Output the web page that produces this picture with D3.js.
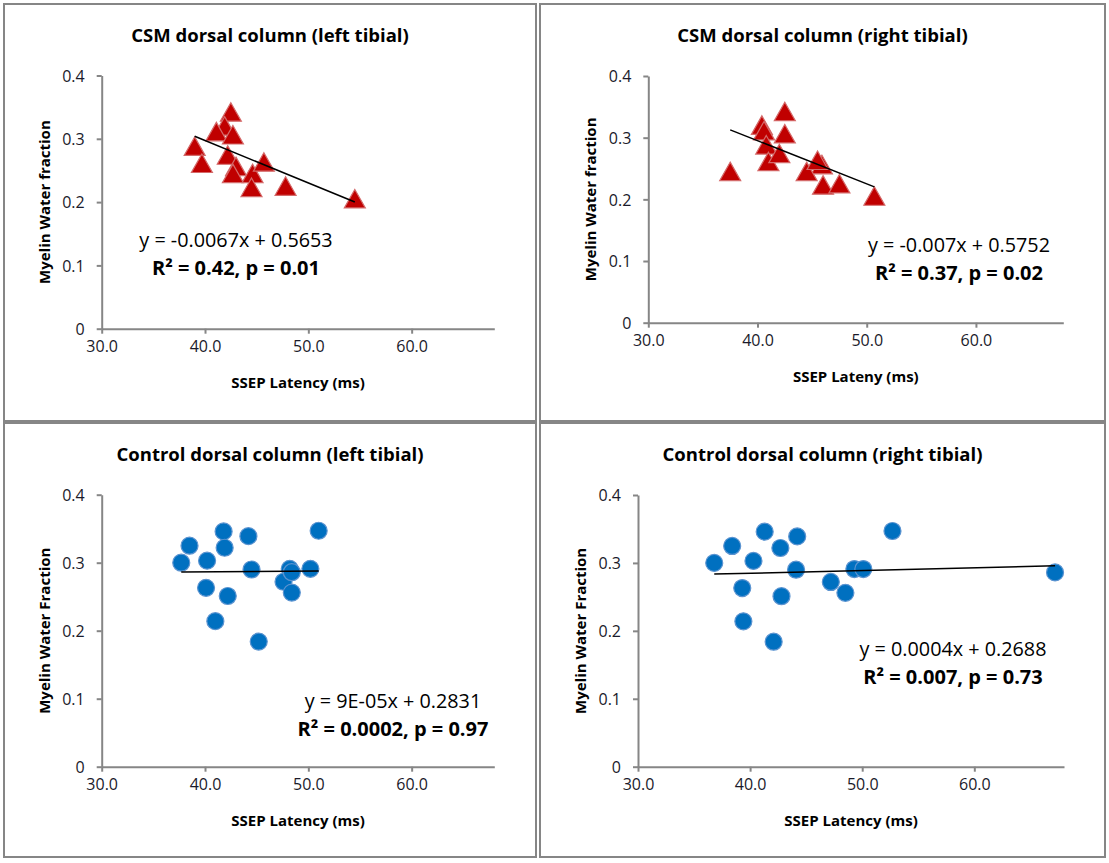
<!DOCTYPE html>
<html>
<head>
<meta charset="utf-8">
<script src="https://cdn.jsdelivr.net/npm/d3@7"></script>
<style>
  body { margin: 0; background: #fff; }
  svg { display: block; font-family: "Open Sans", sans-serif; }
</style>
</head>
<body>
<svg id="chart" width="1109" height="863"></svg>
<script>
// MWF values (shared between left / right tibial latencies)
const csmMWF = [0.342, 0.320, 0.311, 0.306, 0.288, 0.261, 0.274, 0.256, 0.245, 0.245, 0.223, 0.263, 0.225, 0.205];
const csmLeftLatency = [42.5, 41.9, 41.1, 42.7, 39.0, 39.7, 42.2, 43.0, 42.7, 44.6, 44.5, 45.7, 47.8, 54.5];
const csmRightLatency = [42.5, 40.4, 40.6, 42.5, 40.8, 41.0, 42.0, 45.9, 37.5, 44.5, 46.0, 45.5, 47.5, 50.7];

const ctrlMWF = [0.300, 0.325, 0.263, 0.214, 0.303, 0.346, 0.184, 0.322, 0.251, 0.290, 0.339, 0.272, 0.256, 0.291, 0.291, 0.347, 0.286];
const ctrlLeftLatency = [37.7, 38.5, 40.1, 41.0, 40.2, 41.8, 45.2, 41.9, 42.2, 44.5, 44.2, 47.6, 48.4, 48.2, 50.2, 51.0, 48.4];
const ctrlRightLatency = [36.8, 38.4, 39.3, 39.4, 40.3, 41.3, 42.1, 42.7, 42.8, 44.1, 44.2, 47.2, 48.5, 49.3, 50.1, 52.7, 67.2];

const titles = ["CSM dorsal column (left tibial)", "CSM dorsal column (right tibial)",
                "Control dorsal column (left tibial)", "Control dorsal column (right tibial)"];
const xTitles = ["SSEP Latency (ms)", "SSEP Lateny (ms)", "SSEP Latency (ms)", "SSEP Latency (ms)"];
const yTitles = ["Myelin Water fraction", "Myelin Water fraction", "Myelin Water Fraction", "Myelin Water Fraction"];
const slopes = [-0.0067, -0.007, 0.00009, 0.0004];
const intercepts = [0.5653, 0.5752, 0.2831, 0.2688];
const eqLabels = ["y = -0.0067x + 0.5653", "y = -0.007x + 0.5752", "y = 9E-05x + 0.2831", "y = 0.0004x + 0.2688"];
const statLabels = ["R² = 0.42, p = 0.01", "R² = 0.37, p = 0.02", "R² = 0.0002, p = 0.97", "R² = 0.007, p = 0.73"];

const xDomain = [30, 68];
const yDomain = [0, 0.4];
const xTicks = [30, 40, 50, 60];
const yTicks = [0, 0.1, 0.2, 0.3, 0.4];

const svg = d3.select("#chart");
const axisColor = "#868686";

// layout of the four panels
const panels = [
  { box: [4, 4, 532, 417], plot: [101.7, 494.3, 75.5, 328.7], xs: csmLeftLatency, ys: csmMWF, marker: "tri", eq: [236, 247] },
  { box: [540, 4, 565, 417], plot: [648.3, 1063.3, 76, 322.7], xs: csmRightLatency, ys: csmMWF, marker: "tri", eq: [959, 252] },
  { box: [4, 423, 532, 434], plot: [101.7, 494.3, 494.7, 766.7], xs: ctrlLeftLatency, ys: ctrlMWF, marker: "dot", eq: [393, 708] },
  { box: [540, 423, 565, 434], plot: [638, 1064, 495, 766.7], xs: ctrlRightLatency, ys: ctrlMWF, marker: "dot", eq: [953, 656] }
];

panels.forEach((p, i) => {
  const [bx, by, bw, bh] = p.box;
  const [l, r, t, b] = p.plot;

  svg.append("rect")
    .attr("x", bx).attr("y", by).attr("width", bw).attr("height", bh)
    .attr("fill", "none").attr("stroke", axisColor).attr("stroke-width", 2);

  const x = d3.scaleLinear().domain(xDomain).range([l, r]);
  const y = d3.scaleLinear().domain(yDomain).range([b, t]);

  const g = svg.append("g");

  // x axis
  const xAxis = g.append("g").attr("transform", `translate(0,${b})`)
    .call(d3.axisBottom(x).tickValues(xTicks).tickFormat(d3.format(".1f")).tickSizeInner(5).tickSizeOuter(0).tickPadding(7));
  // y axis
  const yAxis = g.append("g").attr("transform", `translate(${l},0)`)
    .call(d3.axisLeft(y).tickValues(yTicks).tickFormat(d => d === 0 ? "0" : d3.format(".1f")(d)).tickSizeInner(5).tickSizeOuter(0).tickPadding(12));

  [xAxis, yAxis].forEach(ax => {
    ax.select(".domain").attr("stroke", axisColor).attr("stroke-width", 2);
    ax.selectAll(".tick line").attr("stroke", axisColor).attr("stroke-width", 2);
    ax.selectAll(".tick text").attr("fill", "#1a1a2a").style("font-size", "16px")
      .style("font-family", "'Open Sans', sans-serif");
  });
  yAxis.selectAll(".tick text").attr("dy", "0.36em");

  // title
  svg.append("text")
    .attr("x", bx + bw / 2).attr("y", by + 38)
    .attr("text-anchor", "middle").style("font-size", "18.5px").style("font-weight", "bold")
    .text(titles[i]);

  // axis titles
  svg.append("text")
    .attr("x", (l + r) / 2).attr("y", b + 59)
    .attr("text-anchor", "middle").style("font-size", "15px").style("font-weight", "bold")
    .text(xTitles[i]);
  svg.append("text")
    .attr("transform", `translate(${l - 52},${(t + b) / 2}) rotate(-90)`)
    .attr("text-anchor", "middle").style("font-size", "15px").style("font-weight", "bold")
    .text(yTitles[i]);

  const pts = p.xs.map((v, k) => ({ x: v, y: p.ys[k] }));

  // markers
  if (p.marker === "tri") {
    const tri = "M0,-9.5L10.5,9L-10.5,9Z";
    g.selectAll("path.pt").data(pts).enter().append("path")
      .attr("class", "pt")
      .attr("d", tri)
      .attr("transform", d => `translate(${x(d.x)},${y(d.y)})`)
      .attr("fill", "#C00000").attr("stroke", "#D46A6A").attr("stroke-width", 1.2);
  } else {
    g.selectAll("circle.pt").data(pts).enter().append("circle")
      .attr("class", "pt")
      .attr("cx", d => x(d.x)).attr("cy", d => y(d.y)).attr("r", 8.5)
      .attr("fill", "#0070C0").attr("stroke", "#5B93D0").attr("stroke-width", 1.2);
  }

  // linear trendline over the data range
  const [xmin, xmax] = d3.extent(p.xs);
  const line = d3.line().x(d => x(d)).y(d => y(slopes[i] * d + intercepts[i]));
  g.append("path").datum([xmin, xmax]).attr("d", line)
    .attr("fill", "none").attr("stroke", "#000").attr("stroke-width", 1.5);

  // equation + stats
  svg.append("text")
    .attr("x", p.eq[0]).attr("y", p.eq[1])
    .attr("text-anchor", "middle").style("font-size", "19.8px")
    .text(eqLabels[i]);
  svg.append("text")
    .attr("x", p.eq[0]).attr("y", p.eq[1] + 28)
    .attr("text-anchor", "middle").style("font-size", "20px").style("font-weight", "bold")
    .text(statLabels[i]);
});
</script>
</body>
</html>
